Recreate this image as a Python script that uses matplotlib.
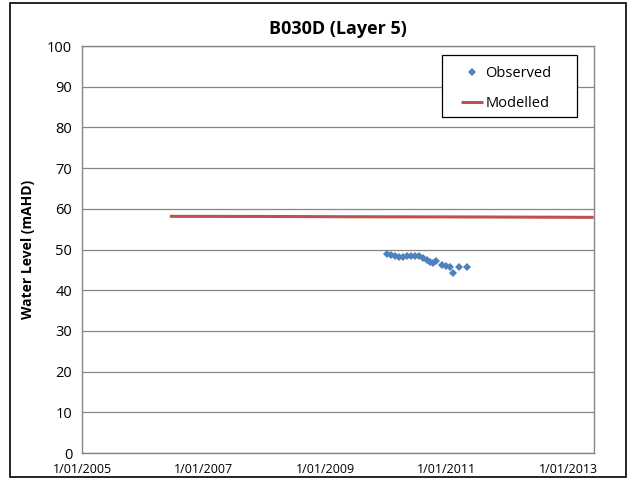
import datetime as dt
import matplotlib
matplotlib.use("Agg")
from matplotlib import pyplot as plt
from matplotlib.patches import Rectangle

plt.rcParams['font.family'] = ['Open Sans', 'DejaVu Sans']

# Observed water levels (mAHD)
obs_dates = ["2010-01-08", "2010-02-03", "2010-02-25", "2010-03-21", "2010-04-12",
             "2010-05-06", "2010-05-31", "2010-06-24", "2010-07-18", "2010-08-11",
             "2010-09-05", "2010-09-23", "2010-10-11", "2010-10-29", "2010-12-04",
             "2010-12-29", "2011-01-22", "2011-02-08", "2011-03-17", "2011-05-04"]
obs_levels = [49.0, 48.6, 48.4, 48.2, 48.1, 48.3, 48.3, 48.3, 48.3, 47.9,
              47.5, 47.0, 46.7, 47.1, 46.1, 45.9, 45.8, 44.3, 45.8, 45.8]

# Modelled water levels (mAHD)
mod_dates = ["2006-06-13", "2008-01-01", "2009-06-01", "2011-06-01", "2013-06-03"]
mod_levels = [58.15, 58.12, 58.05, 58.0, 57.9]

y_ticks = [0, 10, 20, 30, 40, 50, 60, 70, 80, 90, 100]
x_tick_dates = ["2005-01-01", "2007-01-01", "2009-01-01", "2011-01-01", "2013-01-01"]
x_tick_labels = ["1/01/2005", "1/01/2007", "1/01/2009", "1/01/2011", "1/01/2013"]


def to_dates(strs):
    return [dt.datetime.strptime(s, "%Y-%m-%d") for s in strs]


fig = plt.figure(figsize=(6.34, 4.88), dpi=100)
ax = fig.add_axes([0.1293, 0.0717, 0.807, 0.834])

ax.plot(to_dates(mod_dates), mod_levels, color='#C0504D', lw=2.2, label='Modelled',
        solid_capstyle='butt', zorder=3)
ax.plot(to_dates(obs_dates), obs_levels, 'D', color='#4F81BD', markersize=4.5,
        markeredgewidth=0, label='Observed', zorder=4)

ax.set_xlim(dt.datetime(2005, 1, 1), dt.datetime(2013, 6, 3))
ax.set_ylim(0, 100)
ax.set_yticks(y_ticks)
ax.set_xticks(to_dates(x_tick_dates))
ax.set_xticklabels(x_tick_labels, fontsize=9)
ax.tick_params(axis='y', labelsize=10.5, length=0, pad=7)
ax.tick_params(axis='x', length=0, pad=7)
ax.grid(axis='y', color='#868686', lw=0.9)
ax.set_axisbelow(True)
for s in ax.spines.values():
    s.set_color('#868686')
    s.set_linewidth(1.0)

ax.set_ylabel("Water Level (mAHD)", fontsize=10, fontweight='bold', labelpad=9)
ax.set_title("B030D (Layer 5)", fontsize=13, fontweight='bold', pad=9)

# legend box drawn by hand, Excel style (wider than its text)
ax.add_patch(Rectangle((0.7035, 0.8256), 0.2635, 0.1524, transform=ax.transAxes,
                       facecolor='white', edgecolor='black', lw=0.9, zorder=5))
handles, labels = ax.get_legend_handles_labels()
leg = ax.legend(handles[::-1], labels[::-1], loc='upper left',
                bbox_to_anchor=(0.714, 0.985), fontsize=10.5, frameon=False,
                handlelength=1.5, handletextpad=0.15, borderpad=0.55,
                labelspacing=1.05, borderaxespad=0.4)
leg.set_zorder(6)

# outer chart border
fig.patches.append(Rectangle((10 / 634, 11 / 488), 616 / 634, 474 / 488,
                             transform=fig.transFigure, fill=False,
                             edgecolor='black', lw=1.2))

fig.savefig("out.png", dpi=100)
